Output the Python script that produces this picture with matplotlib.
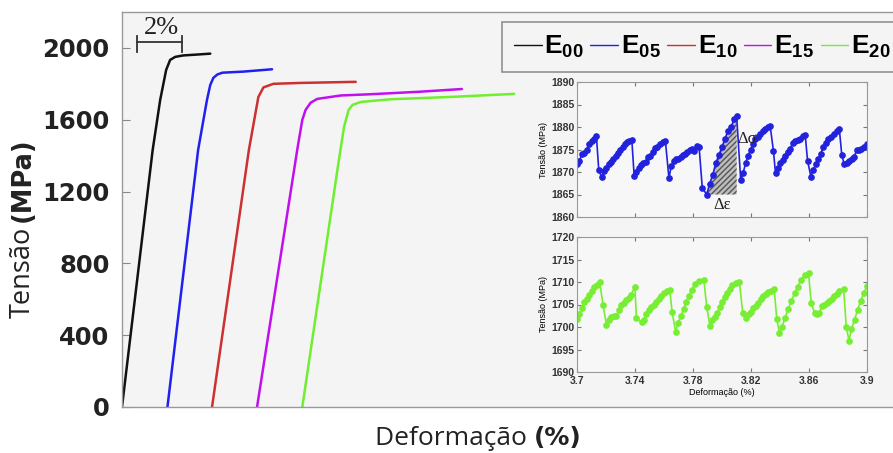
import numpy as np
import matplotlib.pyplot as plt

plt.rcParams['mathtext.fontset'] = 'custom'
plt.rcParams['mathtext.bf'] = 'Liberation Sans:bold'
plt.rcParams['mathtext.rm'] = 'Liberation Sans'

# ---------------------------
# Tensile curves (strain %, stress MPa)
# ---------------------------
E00_strain = [0.0, 1.39, 1.73, 2.00, 2.18, 2.41, 2.77, 3.40, 4.00]
E00_stress = [0, 1432, 1710, 1877, 1933, 1950, 1958, 1963, 1968]

E05_strain = [2.06, 3.45, 3.85, 4.00, 4.14, 4.32, 4.55, 5.50, 6.80]
E05_stress = [0, 1432, 1710, 1794, 1833, 1852, 1862, 1868, 1881]

E10_strain = [4.08, 5.75, 6.05, 6.18, 6.41, 6.86, 8.09, 10.59]
E10_stress = [0, 1432, 1638, 1727, 1780, 1800, 1805, 1811]

E15_strain = [6.12, 7.94, 8.17, 8.32, 8.55, 8.85, 9.91, 11.27, 13.50, 15.40]
E15_stress = [0, 1432, 1599, 1655, 1695, 1716, 1735, 1742, 1756, 1771]

E20_strain = [8.17, 9.76, 10.06, 10.27, 10.45, 10.82, 12.18, 14.91, 17.77]
E20_stress = [0, 1320, 1560, 1655, 1683, 1699, 1714, 1727, 1744]

labels = ['00', '05', '10', '15', '20']
colors = ['#111111', '#2020f0', '#cc3030', '#c010ee', '#70ee30']

# ---------------------------
# Serrations (zoomed plastic region)
# ---------------------------
e05_zoom_strain = [
    3.7000, 3.7017, 3.7033, 3.7050, 3.7067, 3.7084, 3.7100, 3.7117, 3.7134,
    3.7150, 3.7170,
    3.7186, 3.7202, 3.7218, 3.7234, 3.7250, 3.7266, 3.7282, 3.7298, 3.7314, 3.7330, 3.7346, 3.7362, 3.7378,
    3.7394,
    3.7410, 3.7426, 3.7442, 3.7458, 3.7474, 3.7490, 3.7506, 3.7522, 3.7538, 3.7554, 3.7570, 3.7590, 3.7610,
    3.7634,
    3.7650, 3.7666, 3.7682, 3.7698, 3.7714, 3.7730, 3.7746, 3.7762, 3.7778, 3.7794, 3.7810, 3.7826, 3.7842,
    3.7864, 3.7894,
    3.7915, 3.7936, 3.7957, 3.7978, 3.7999, 3.8020, 3.8041, 3.8062, 3.8083, 3.8101,
    3.8129,
    3.8146, 3.8163, 3.8180, 3.8197, 3.8214, 3.8231, 3.8248, 3.8265, 3.8282, 3.8299, 3.8316, 3.8332,
    3.8355, 3.8369,
    3.8386, 3.8403, 3.8420, 3.8437, 3.8454, 3.8471, 3.8488, 3.8505, 3.8522, 3.8540, 3.8557, 3.8574,
    3.8590, 3.8613,
    3.8630, 3.8647, 3.8664, 3.8681, 3.8698, 3.8715, 3.8732, 3.8750, 3.8770, 3.8790, 3.8809,
    3.8826, 3.8843, 3.8860, 3.8877, 3.8894, 3.8911, 3.8928, 3.8945, 3.8962, 3.8980, 3.9000,
]
e05_zoom_stress = [
    1871.8, 1872.4, 1874.0, 1874.2, 1875.0, 1876.2, 1877.0, 1877.4, 1877.9,
    1870.5, 1868.8,
    1870.3, 1871.0, 1871.7, 1872.3, 1872.9, 1873.6, 1874.3, 1875.0, 1875.6, 1876.2, 1876.6, 1876.9, 1877.2,
    1869.2,
    1870.0, 1870.8, 1871.6, 1872.0, 1872.3, 1873.4, 1873.6, 1874.4, 1875.4, 1875.6, 1876.2, 1876.6, 1876.8,
    1868.6,
    1871.3, 1872.4, 1872.8, 1873.0, 1873.3, 1873.7, 1874.1, 1874.5, 1874.9, 1875.1, 1874.6, 1875.7, 1875.6,
    1866.5, 1865.0,
    1867.4, 1869.3, 1872.0, 1873.7, 1875.5, 1877.3, 1879.2, 1880.0, 1881.7, 1882.4,
    1868.2,
    1869.8, 1872.0, 1873.6, 1875.0, 1876.2, 1877.3, 1877.8, 1878.5, 1879.2, 1879.6, 1880.0, 1880.3,
    1874.6, 1869.7,
    1870.8, 1872.0, 1872.7, 1873.5, 1874.4, 1875.2, 1876.5, 1876.9, 1877.2, 1877.4, 1877.9, 1878.2,
    1872.5, 1869.0,
    1870.5, 1871.8, 1872.8, 1874.1, 1875.5, 1876.4, 1877.3, 1877.8, 1878.5, 1879.1, 1879.6,
    1873.8, 1871.7, 1872.0, 1872.5, 1873.0, 1873.3, 1874.8, 1875.0, 1875.2, 1875.5, 1876.3,
]

e20_zoom_strain = [
    3.7000, 3.7017, 3.7034, 3.7051, 3.7068, 3.7085, 3.7102, 3.7119, 3.7136, 3.7157,
    3.7180, 3.7203,
    3.7220, 3.7237, 3.7254, 3.7271, 3.7288, 3.7305, 3.7322, 3.7339, 3.7356, 3.7373, 3.7399,
    3.7410, 3.7445,
    3.7462, 3.7479, 3.7496, 3.7513, 3.7530, 3.7547, 3.7564, 3.7581, 3.7598, 3.7619, 3.7640,
    3.7656, 3.7680,
    3.7697, 3.7716, 3.7735, 3.7754, 3.7773, 3.7792, 3.7811, 3.7840, 3.7875,
    3.7895, 3.7917,
    3.7934, 3.7951, 3.7968, 3.7985, 3.8002, 3.8019, 3.8036, 3.8053, 3.8070, 3.8095, 3.8120,
    3.8143, 3.8166,
    3.8183, 3.8200, 3.8217, 3.8234, 3.8251, 3.8268, 3.8285, 3.8302, 3.8319, 3.8340, 3.8360,
    3.8378, 3.8396,
    3.8413, 3.8435, 3.8457, 3.8479, 3.8501, 3.8523, 3.8545, 3.8570, 3.8597,
    3.8615, 3.8638,
    3.8655, 3.8672, 3.8689, 3.8706, 3.8723, 3.8740, 3.8757, 3.8774, 3.8791, 3.8808, 3.8839,
    3.8857, 3.8876,
    3.8893, 3.8914, 3.8935, 3.8956, 3.8977, 3.9000,
]
e20_zoom_stress = [
    1701.7, 1703.0, 1704.2, 1705.5, 1706.3, 1707.2, 1708.1, 1708.8, 1709.4, 1709.9,
    1704.8, 1700.5,
    1701.6, 1702.2, 1702.5, 1702.4, 1703.8, 1704.8, 1705.3, 1706.0, 1706.5, 1707.2, 1708.9,
    1701.9, 1701.1,
    1701.5, 1702.8, 1703.8, 1704.4, 1705.0, 1705.6, 1706.3, 1707.0, 1707.6, 1708.0, 1708.2,
    1703.3, 1699.0,
    1700.8, 1702.4, 1704.0, 1705.5, 1707.0, 1708.2, 1709.5, 1710.2, 1710.4,
    1704.4, 1700.2,
    1701.5, 1702.3, 1703.1, 1704.5, 1705.6, 1706.6, 1707.6, 1708.5, 1709.3, 1709.7, 1709.9,
    1703.2, 1702.0,
    1702.9, 1703.4, 1704.2, 1704.6, 1705.4, 1706.2, 1706.9, 1707.4, 1707.8, 1708.1, 1708.4,
    1701.7, 1698.7,
    1700.0, 1702.0, 1704.1, 1705.8, 1707.5, 1709.0, 1710.4, 1711.5, 1711.9,
    1705.4, 1703.2,
    1703.0, 1703.2, 1704.6, 1705.0, 1705.3, 1705.8, 1706.3, 1707.0, 1707.3, 1708.0, 1708.5,
    1700.0, 1697.0,
    1699.5, 1701.6, 1703.8, 1705.7, 1707.5, 1709.1,
]

y_ticks = [0, 400, 800, 1200, 1600, 2000]
zoom_x_ticks = [3.70, 3.74, 3.78, 3.82, 3.86, 3.90]
zoom_x_labels = ['3.7', '3.74', '3.78', '3.82', '3.86', '3.9']
scale_bar = 2.0  # % strain

W, H = 893, 453
fig = plt.figure(figsize=(W / 100, H / 100), dpi=100)

# ---------------------------
# Main axes
# ---------------------------
ax = fig.add_axes([122 / W, 1 - 407 / H, (W - 122) / W + 0.02, (407 - 12) / H])
ax.set_facecolor('#f4f4f4')
curves = [(E00_strain, E00_stress), (E05_strain, E05_stress), (E10_strain, E10_stress),
          (E15_strain, E15_stress), (E20_strain, E20_stress)]
for (xs, ys), lab, c in zip(curves, labels, colors):
    ax.plot(xs, ys, color=c, lw=1.8, label=r'$\mathbf{E_{%s}}$' % lab,
            solid_joinstyle='round', solid_capstyle='round')

ax.set_xlim(0, (W - 122) / 22 * 1.02)
ax.set_ylim(0, 2200)
ax.set_xticks([])
ax.set_yticks(y_ticks)
ax.set_yticklabels([str(v) for v in y_ticks], fontfamily='DejaVu Sans',
                   fontweight='bold', fontsize=17.5, color='#222222')
ax.tick_params(axis='y', direction='in', length=6, color='#888888', pad=9)
for sp in ax.spines.values():
    sp.set_color('#999999')
    sp.set_linewidth(1.0)

# 2% scale bar
x0 = 0.7
ax.plot([x0, x0 + scale_bar], [2033, 2033], color='#333333', lw=1.3)
ax.plot([x0, x0], [1978, 2068], color='#333333', lw=1.3)
ax.plot([x0 + scale_bar, x0 + scale_bar], [1978, 2068], color='#333333', lw=1.3)
ax.text(x0 + scale_bar / 2 + 0.1, 2052, '%g%%' % scale_bar, ha='center', va='bottom',
        fontfamily='Liberation Serif', fontsize=19, color='#222222')

# axis labels, plain word + bold unit
fig.text(23 / W, 1 - 227 / H, 'Tensão', rotation=90, ha='center', va='top',
         fontfamily='Open Sans', fontsize=19.5, color='#222222')
fig.text(23 / W, 1 - 222 / H, '(MPa)', rotation=90, ha='center', va='bottom',
         fontfamily='DejaVu Sans', fontweight='bold', fontsize=18.5, color='#222222')
fig.text(534 / W, 1 - 445 / H, 'Deformação ', ha='right', va='baseline',
         fontfamily='Open Sans', fontsize=19, color='#222222')
fig.text(534 / W, 1 - 445 / H, '(%)', ha='left', va='baseline',
         fontfamily='DejaVu Sans', fontweight='bold', fontsize=18, color='#222222')

leg = fig.legend(loc='upper left', bbox_to_anchor=(502 / W, 1 - 22 / H), ncol=5,
                 fontsize=19, handlelength=1.05, handletextpad=0.1, columnspacing=0.25,
                 borderpad=0.45, borderaxespad=0, frameon=True, fancybox=False)
leg.get_frame().set_edgecolor('#777777')
leg.get_frame().set_facecolor('#f4f4f4')
leg.get_frame().set_linewidth(1.2)
for h in leg.get_lines():
    h.set_linewidth(1.0)

# ---------------------------
# Zoomed serration insets
# ---------------------------
def style_inset(a):
    a.set_facecolor('#f7f7f7')
    for sp in a.spines.values():
        sp.set_color('#999999')
        sp.set_linewidth(0.8)
    a.tick_params(direction='in', length=3, color='#777777', top=True, right=True,
                  labelsize=7.5, pad=2)
    for t in a.get_yticklabels() + a.get_xticklabels():
        t.set_fontfamily('Liberation Sans')
        t.set_fontweight('bold')
        t.set_color('#333333')
    a.set_ylabel('Tensão (MPa)', fontsize=6.5, fontfamily='Liberation Sans', labelpad=2)


ax1 = fig.add_axes([577 / W, 1 - 217 / H, 290 / W, 135 / H])
ax1.plot(e05_zoom_strain, e05_zoom_stress, '-o', color='#2222dd', ms=3.8, lw=1.2)
s = np.array(e05_zoom_strain)
t = np.array(e05_zoom_stress)
i0 = int(np.argmin(t))
i1 = int(np.argmax(t))
ax1.fill_between(s[i0:i1 + 1], t[i0:i1 + 1], t[i0], facecolor='#bdbdbd',
                 edgecolor='#555555', hatch='//////', lw=0, zorder=0)
ax1.text(s[i1] + 0.0002, 1877.3, 'Δσ', fontsize=12, color='#222222',
         fontfamily='Liberation Serif', va='center')
ax1.text(s[i0] + 0.0045, t[i0] - 0.6, 'Δε', fontsize=12, color='#222222',
         fontfamily='Liberation Serif', va='top')
ax1.set_xlim(3.7, 3.9)
ax1.set_ylim(1860, 1890)
ax1.set_xticks(zoom_x_ticks)
ax1.set_xticklabels([])
ax1.set_yticks(np.arange(1860, 1891, 5))
style_inset(ax1)

ax2 = fig.add_axes([577 / W, 1 - 372 / H, 290 / W, 135 / H])
ax2.plot(e20_zoom_strain, e20_zoom_stress, '-o', color='#77ee33', ms=3.8, lw=1.2)
ax2.set_xlim(3.7, 3.9)
ax2.set_ylim(1690, 1720)
ax2.set_xticks(zoom_x_ticks)
ax2.set_xticklabels(zoom_x_labels)
ax2.set_yticks(np.arange(1690, 1721, 5))
style_inset(ax2)
ax2.tick_params(axis='x', pad=3)
ax2.set_xlabel('Deformação (%)', fontsize=6.5, fontfamily='Liberation Sans', labelpad=1)

fig.savefig('out.png', dpi=100)
